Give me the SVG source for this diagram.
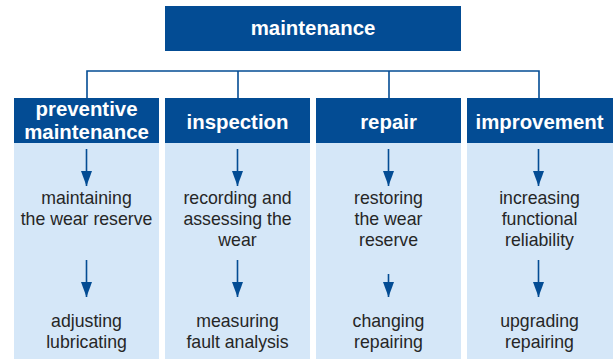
<svg xmlns="http://www.w3.org/2000/svg" width="613" height="359" viewBox="0 0 613 359">
  <defs>
    <marker id="head" viewBox="0 0 15 11" refX="15" refY="5.5" markerWidth="15" markerHeight="11" markerUnits="userSpaceOnUse" orient="auto">
      <path d="M0 0 L15 5.5 L0 11 Z" fill="#034c94"/>
    </marker>
    <style>
      .hdr { fill: #034c94; }
      .body { fill: #d5e7f8; }
      .ht { font-family: "Liberation Sans", Arial, sans-serif; font-weight: bold; font-size: 20.4px; fill: #ffffff; text-anchor: middle; }
      .bt { font-family: "Liberation Sans", Arial, sans-serif; font-size: 17.7px; fill: #262626; text-anchor: middle; }
      .link { fill: none; stroke: #034c94; stroke-width: 1.6; }
      .arrow { fill: none; stroke: #034c94; stroke-width: 1.6; }
    </style>
  </defs>
  <rect width="613" height="359" fill="#ffffff"/>

  <!-- tree connectors from the root to the four branches -->
  <g id="connectors">
    <path class="link" d="M87 98 V71 H539 V98"/>
    <path class="link" d="M238 71 V98"/>
    <path class="link" d="M389 71 V98"/>
  </g>

  <g id="root">
    <rect class="hdr" x="165" y="6" width="296" height="45"/>
    <text class="ht" x="313" y="35">maintenance</text>
  </g>

  <g id="preventive">
    <rect class="body" x="14" y="143" width="145" height="216"/>
    <rect class="hdr" x="14" y="98" width="145" height="45"/>
    <text class="ht" x="86.5" y="116">preventive</text>
    <text class="ht" x="86.5" y="139">maintenance</text>
    <path class="arrow" d="M86.5 149 V186" marker-end="url(#head)"/>
    <text class="bt" x="86.5" y="204">maintaining</text>
    <text class="bt" x="86.5" y="225">the wear reserve</text>
    <path class="arrow" d="M86.5 260 V297" marker-end="url(#head)"/>
    <text class="bt" x="86.5" y="327">adjusting</text>
    <text class="bt" x="86.5" y="348">lubricating</text>
  </g>

  <g id="inspection">
    <rect class="body" x="165" y="143" width="145" height="216"/>
    <rect class="hdr" x="165" y="98" width="145" height="45"/>
    <text class="ht" x="237.5" y="129">inspection</text>
    <path class="arrow" d="M237.5 149 V186" marker-end="url(#head)"/>
    <text class="bt" x="237.5" y="204">recording and</text>
    <text class="bt" x="237.5" y="225">assessing the</text>
    <text class="bt" x="237.5" y="246">wear</text>
    <path class="arrow" d="M237.5 260 V297" marker-end="url(#head)"/>
    <text class="bt" x="237.5" y="327">measuring</text>
    <text class="bt" x="237.5" y="348">fault analysis</text>
  </g>

  <g id="repair">
    <rect class="body" x="316" y="143" width="145" height="216"/>
    <rect class="hdr" x="316" y="98" width="145" height="45"/>
    <text class="ht" x="388.5" y="129">repair</text>
    <path class="arrow" d="M388.5 149 V186" marker-end="url(#head)"/>
    <text class="bt" x="388.5" y="204">restoring</text>
    <text class="bt" x="388.5" y="225">the wear</text>
    <text class="bt" x="388.5" y="246">reserve</text>
    <path class="arrow" d="M388.5 274 V297" marker-end="url(#head)"/>
    <text class="bt" x="388.5" y="327">changing</text>
    <text class="bt" x="388.5" y="348">repairing</text>
  </g>

  <g id="improvement">
    <rect class="body" x="467" y="143" width="146" height="216"/>
    <rect class="hdr" x="467" y="98" width="146" height="45"/>
    <text class="ht" x="539.5" y="129">improvement</text>
    <path class="arrow" d="M538.5 149 V186" marker-end="url(#head)"/>
    <text class="bt" x="539.5" y="204">increasing</text>
    <text class="bt" x="539.5" y="225">functional</text>
    <text class="bt" x="539.5" y="246">reliability</text>
    <path class="arrow" d="M538.5 260 V297" marker-end="url(#head)"/>
    <text class="bt" x="539.5" y="327">upgrading</text>
    <text class="bt" x="539.5" y="348">repairing</text>
  </g>
</svg>
